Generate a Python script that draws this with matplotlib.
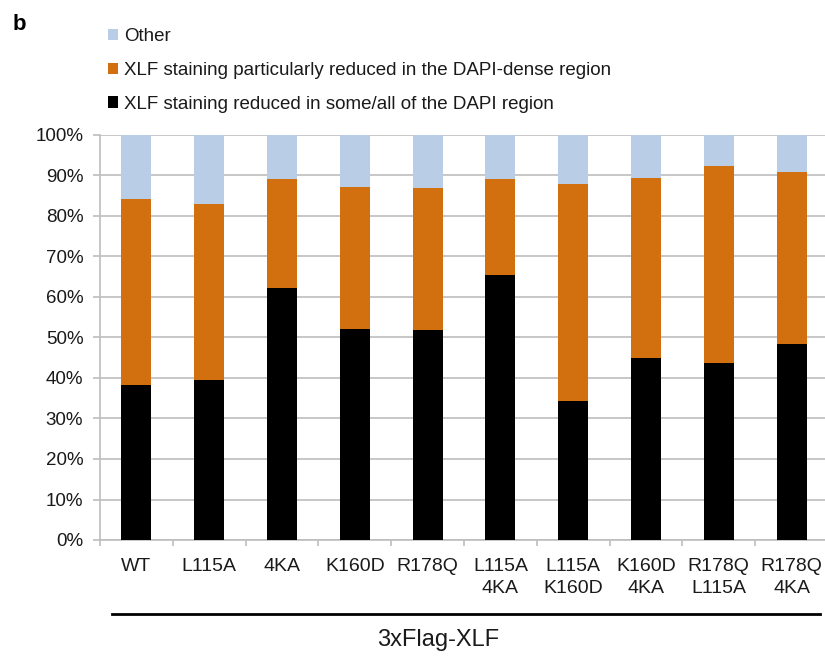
import matplotlib
matplotlib.use("Agg")
import matplotlib.pyplot as plt
from matplotlib.patches import Patch
from matplotlib.ticker import FuncFormatter, FixedLocator
import numpy as np

categories = ["WT", "L115A", "4KA", "K160D", "R178Q", "L115A\n4KA", "L115A\nK160D",
              "K160D\n4KA", "R178Q\nL115A", "R178Q\n4KA"]
reduced_some_all = [38.2, 39.5, 62.2, 52.2, 51.8, 65.4, 34.3, 44.9, 43.7, 48.4]
reduced_dense = [46.0, 43.5, 26.9, 35.0, 35.0, 23.7, 53.6, 44.6, 48.6, 42.5]
other = [15.8, 17.0, 10.9, 12.8, 13.2, 10.9, 12.1, 10.5, 7.7, 9.1]
series_labels = ["XLF staining reduced in some/all of the DAPI region",
                 "XLF staining particularly reduced in the DAPI-dense region",
                 "Other"]
colors = ["#000000", "#D2700F", "#B9CDE7"]
yticks = [0, 10, 20, 30, 40, 50, 60, 70, 80, 90, 100]
xlabel_group = "3xFlag-XLF"

plt.rcParams["font.family"] = ["Liberation Sans", "DejaVu Sans"]

fig = plt.figure(figsize=(8.25, 6.56), dpi=100)
ax = fig.add_axes([100/825, 1-540/656, 728/825, 405/656])

x = np.arange(len(categories))
w = 0.41
b1 = np.array(reduced_some_all)
b2 = np.array(reduced_dense)
b3 = np.array(other)
ax.bar(x, b1, w, color=colors[0], zorder=3)
ax.bar(x, b2, w, bottom=b1, color=colors[1], zorder=3)
ax.bar(x, b3, w, bottom=b1 + b2, color=colors[2], zorder=3)

ax.set_xlim(-0.5, len(categories) - 0.5)
ax.set_ylim(0, 100)
ax.set_yticks(yticks)
ax.yaxis.set_major_formatter(FuncFormatter(lambda v, p: f"{int(v)}%"))
ax.grid(axis="y", color="#BEBEBE", linewidth=1.2, zorder=0)
for s in ["top", "right"]:
    ax.spines[s].set_visible(False)
for s in ["left", "bottom"]:
    ax.spines[s].set_color("#BEBEBE")
    ax.spines[s].set_linewidth(1.2)

ax.set_xticks(x)
ax.set_xticklabels(categories, fontsize=14, linespacing=1.38, va="top")
ax.xaxis.set_minor_locator(FixedLocator(np.arange(-0.5, len(categories), 1)))
ax.tick_params(axis="x", which="major", length=0, pad=13, labelcolor="#1a1a1a")
ax.tick_params(axis="x", which="minor", length=4, color="#BEBEBE", width=1.2)
ax.tick_params(axis="y", length=5, color="#BEBEBE", width=1.2, labelsize=13.5,
               pad=7, labelcolor="#1a1a1a")

# group line and label
fig.add_artist(plt.Line2D([112/825, 820/825], [1-613.5/656, 1-613.5/656],
                          color="black", linewidth=2))
fig.text(438/825, 1-640/656, xlabel_group, fontsize=17, ha="center", va="center",
         color="#1a1a1a")

fig.text(13/825, 1-24/656, "b", fontsize=16, fontweight="bold", ha="left", va="center")

handles = [Patch(facecolor=colors[i], edgecolor="none") for i in (2, 1, 0)]
labels = [series_labels[i] for i in (2, 1, 0)]
fig.legend(handles, labels, loc="upper left", bbox_to_anchor=(108/825, 1-28/656),
           frameon=False, fontsize=13.5, handlelength=0.55, handleheight=0.55,
           handletextpad=0.3, labelspacing=0.9, borderaxespad=0, borderpad=0,
           labelcolor="#1a1a1a")

fig.savefig("out.png", dpi=100)
